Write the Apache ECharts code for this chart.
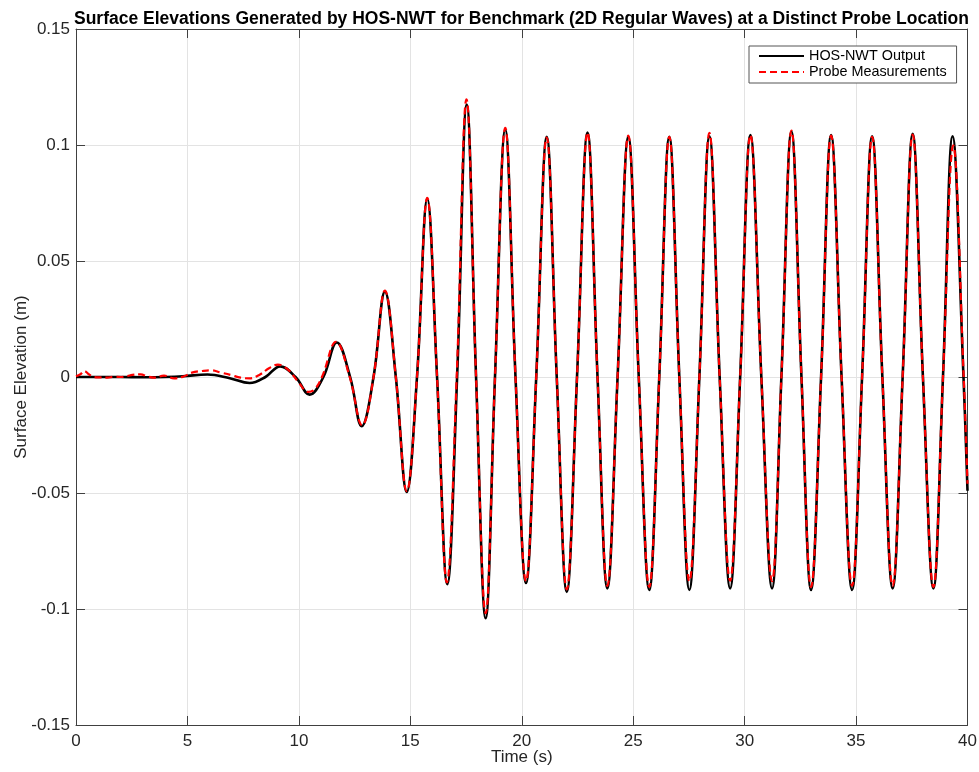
<!DOCTYPE html>
<html>
<head>
<meta charset="utf-8">
<script src="https://cdn.jsdelivr.net/npm/echarts@6/dist/echarts.min.js"></script>
<style>
html,body{margin:0;padding:0;background:#fff;}
#chart{width:979px;height:772px;}
</style>
</head>
<body>
<div id="chart"></div>
<script>
// ---- data ----
var chartTitle = 'Surface Elevations Generated by HOS-NWT for Benchmark (2D Regular Waves) at a Distinct Probe Location';
var xTicks = [0, 5, 10, 15, 20, 25, 30, 35, 40];
var yTicks = [-0.15, -0.1, -0.05, 0, 0.05, 0.1, 0.15];

// HOS-NWT output: extrema and zero crossings
var hosTime = [0, 1, 2, 3, 4, 4.8, 5.9, 6.9, 7.79, 8.5, 9.16, 9.85, 10.48, 11.1, 11.70, 12.3, 12.82, 13.35, 13.86, 14.35, 14.84, 15.3, 15.76, 16.2, 16.66, 17.1, 17.53, 17.95, 18.38, 18.8, 19.26, 19.72, 20.19, 20.65, 21.12, 21.57, 22.02, 22.48, 22.95, 23.4, 23.84, 24.3, 24.78, 25.25, 25.72, 26.17, 26.62, 27.07, 27.52, 27.97, 28.42, 28.88, 29.35, 29.8, 30.26, 30.75, 31.23, 31.65, 32.10, 32.55, 32.98, 33.43, 33.88, 34.35, 34.82, 35.27, 35.72, 36.18, 36.64, 37.09, 37.54, 38.0, 38.47, 38.9, 39.33, 39.82, 40];
var hosValue = [0, 0, 0, -0.0001, 0, 0.0003, 0.0011, -0.0005, -0.0026, 0, 0.0046, 0, -0.0076, 0, 0.0149, 0, -0.0212, 0, 0.0368, 0, -0.0496, 0, 0.0769, 0, -0.0893, 0, 0.1174, 0, -0.1040, 0, 0.1066, 0, -0.0888, 0, 0.1035, 0, -0.0926, 0, 0.1054, 0, -0.0911, 0, 0.1035, 0, -0.0918, 0, 0.1035, 0, -0.0918, 0, 0.1038, 0, -0.0911, 0, 0.1043, 0, -0.0911, 0, 0.1058, 0, -0.0918, 0, 0.1043, 0, -0.0918, 0, 0.1038, 0, -0.0911, 0, 0.1048, 0, -0.0911, 0, 0.1038, 0, -0.049];

// Probe measurements
var probeTime = [0, 0.2, 0.37, 0.59, 0.81, 1.1, 1.41, 1.7, 2.0, 2.3, 2.53, 2.9, 3.2, 3.5, 3.95, 4.4, 4.85, 5.2, 5.67, 6.04, 6.5, 6.94, 7.39, 7.79, 8.24, 8.68, 9.06, 9.51, 9.96, 10.42, 10.72, 11.05, 11.67, 12.28, 12.84, 13.35, 13.86, 14.35, 14.84, 15.3, 15.76, 16.2, 16.64, 17.08, 17.52, 17.95, 18.38, 18.8, 19.26, 19.72, 20.19, 20.65, 21.12, 21.57, 22.02, 22.48, 22.95, 23.4, 23.84, 24.3, 24.78, 25.25, 25.72, 26.17, 26.62, 27.07, 27.52, 27.97, 28.42, 28.88, 29.35, 29.8, 30.26, 30.75, 31.23, 31.65, 32.10, 32.55, 32.98, 33.43, 33.88, 34.35, 34.82, 35.27, 35.72, 36.18, 36.64, 37.09, 37.54, 38.0, 38.47, 38.9, 39.36, 39.83, 40];
var probeValue = [0.0003, 0.0012, 0.0026, 0.0011, 0, -0.0002, -0.0003, 0.0001, 0, 0.0004, 0.0009, 0.0011, 0.0003, -0.0003, 0.0006, -0.0006, 0.0003, 0.0019, 0.0026, 0.0029, 0.0019, 0.0009, -0.0003, -0.0006, 0.0010, 0.0039, 0.0053, 0.0032, -0.0019, -0.0064, -0.0052, 0.0003, 0.0152, 0, -0.0208, 0, 0.0372, 0, -0.0492, 0, 0.0772, 0, -0.0885, 0, 0.1197, 0, -0.1018, 0, 0.1074, 0, -0.0880, 0, 0.1032, 0, -0.0915, 0, 0.1054, 0, -0.0900, 0, 0.1040, 0, -0.0905, 0, 0.1035, 0, -0.0880, 0, 0.1052, 0, -0.0878, 0, 0.1043, 0, -0.0880, 0, 0.1062, 0, -0.0905, 0, 0.1040, 0, -0.0900, 0, 0.1035, 0, -0.0900, 0, 0.1045, 0, -0.0905, 0, 0.0998, 0, -0.046];

// ---- chart ----
function pairs(t, v) { return t.map(function (x, i) { return [x, v[i]]; }); }
var axisColor = '#404040';
var textColor = '#262626';
var font = 'Liberation Sans, Arial, Helvetica, sans-serif';

var chart = echarts.init(document.getElementById('chart'), null, {renderer: 'canvas'});
var yFmt = function (v) { var r = parseFloat(v.toFixed(2)); return (r === 0 ? '0' : String(r)); };

chart.setOption({
  backgroundColor: '#ffffff',
  animation: false,
  textStyle: {fontFamily: font},
  title: {
    text: chartTitle,
    left: 516.5, top: 5, textAlign: 'center',
    textStyle: {fontFamily: font, fontSize: 17.5, fontWeight: 'bold', color: '#000'}
  },
  grid: {left: 76, right: 11.5, top: 29, bottom: 47, containLabel: false, outerBoundsMode: 'none'},
  legend: {
    orient: 'vertical',
    left: 749, top: 46,
    padding: [3, 10, 4, 9],
    itemGap: 2,
    itemWidth: 45, itemHeight: 14,
    backgroundColor: '#fff',
    borderColor: '#555', borderWidth: 1,
    itemStyle: {color: 'rgba(0,0,0,0)', borderColor: 'rgba(0,0,0,0)', borderWidth: 0},
    textStyle: {fontFamily: font, fontSize: 14.4, color: '#000'},
    data: ['HOS-NWT Output', 'Probe Measurements']
  },
  xAxis: [{
    type: 'value', min: xTicks[0], max: xTicks[xTicks.length - 1], interval: 5,
    name: 'Time (s)', nameLocation: 'middle', nameGap: 24, nameMoveOverlap: false,
    nameTextStyle: {fontFamily: font, fontSize: 17, color: textColor},
    axisLine: {show: true, onZero: false, lineStyle: {color: axisColor, width: 1}},
    axisTick: {show: true, inside: true, length: 9, lineStyle: {color: axisColor}},
    axisLabel: {margin: 8, fontFamily: font, fontSize: 17, color: textColor},
    splitLine: {show: true, lineStyle: {color: '#e3e3e3', width: 1}}
  }, {
    type: 'value', position: 'top', min: xTicks[0], max: xTicks[xTicks.length - 1], interval: 5,
    axisLine: {show: true, onZero: false, lineStyle: {color: axisColor, width: 1}},
    axisTick: {show: true, inside: true, length: 9, lineStyle: {color: axisColor}},
    axisLabel: {show: false}, splitLine: {show: false}
  }],
  yAxis: [{
    type: 'value', min: yTicks[0], max: yTicks[yTicks.length - 1], interval: 0.05,
    name: 'Surface Elevation (m)', nameLocation: 'middle', nameGap: 46, nameRotate: 90, nameMoveOverlap: false,
    nameTextStyle: {fontFamily: font, fontSize: 17, color: textColor},
    axisLine: {show: true, onZero: false, lineStyle: {color: axisColor, width: 1}},
    axisTick: {show: true, inside: true, length: 9, lineStyle: {color: axisColor}},
    axisLabel: {margin: 6, fontFamily: font, fontSize: 17, color: textColor, formatter: yFmt},
    splitLine: {show: true, lineStyle: {color: '#e3e3e3', width: 1}}
  }, {
    type: 'value', position: 'right', min: yTicks[0], max: yTicks[yTicks.length - 1], interval: 0.05,
    axisLine: {show: true, onZero: false, lineStyle: {color: axisColor, width: 1}},
    axisTick: {show: true, inside: true, length: 9, lineStyle: {color: axisColor}},
    axisLabel: {show: false}, splitLine: {show: false}
  }],
  series: [{
    name: 'HOS-NWT Output', type: 'line', xAxisIndex: 0, yAxisIndex: 0,
    data: pairs(hosTime, hosValue),
    smooth: 0.4, symbol: 'none', showSymbol: false,
    lineStyle: {color: '#000000', width: 2.6},
    itemStyle: {color: '#000000'}, z: 2
  }, {
    name: 'Probe Measurements', type: 'line', xAxisIndex: 0, yAxisIndex: 0,
    data: pairs(probeTime, probeValue),
    smooth: 0.4, symbol: 'none', showSymbol: false,
    lineStyle: {color: '#ff0000', width: 2.2, type: [7, 4]},
    itemStyle: {color: '#ff0000'}, z: 3
  }]
});
</script>
</body>
</html>
